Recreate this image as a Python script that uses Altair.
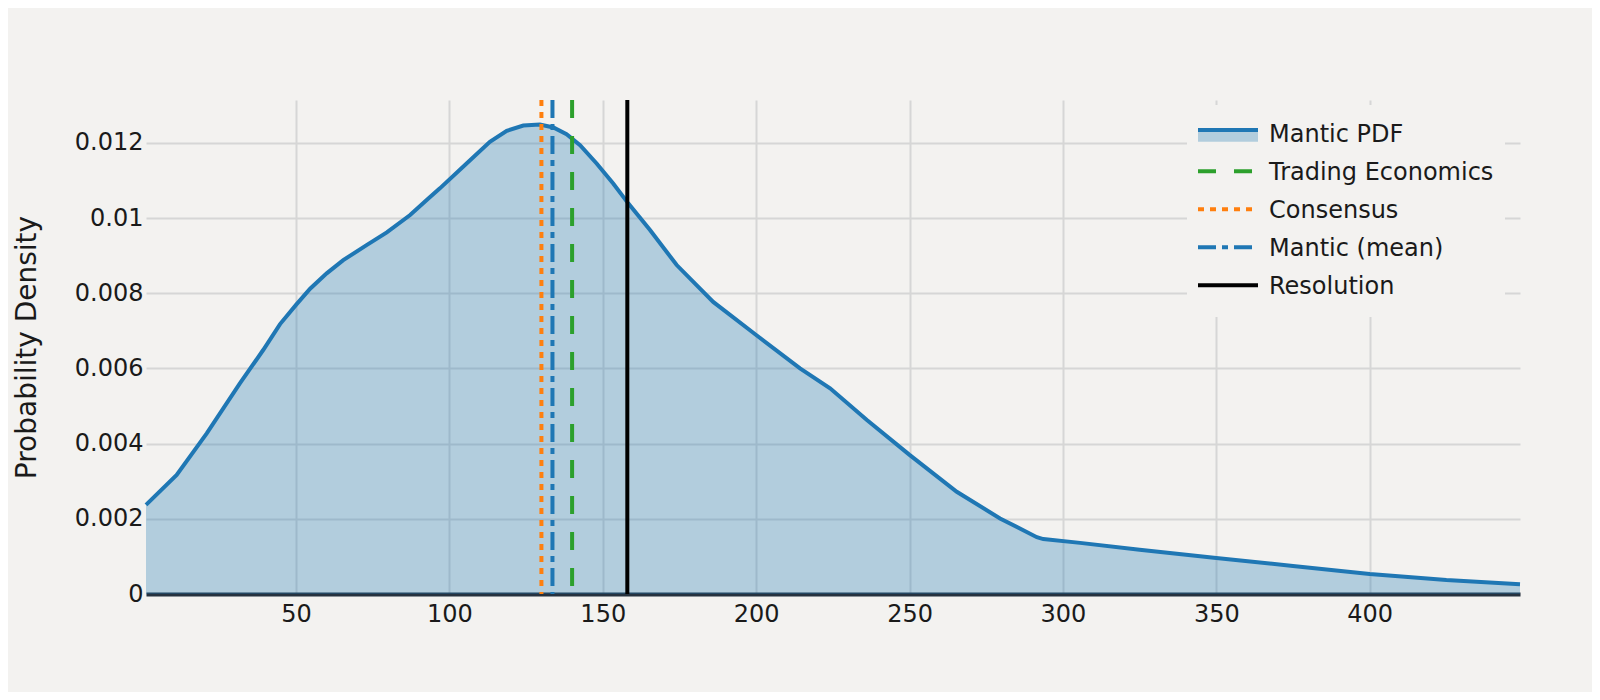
import altair as alt
import pandas as pd

# Mantic probability density
pdf_x = [1.1, 11.1, 20.9, 31.7, 39.3, 44.8, 50.0, 54.6, 60.0, 65.4, 73.0, 79.6, 87.2,
         92.6, 96.9, 105.6, 113.2, 118.7, 124.1, 129.5, 133.9, 138.2, 142.6, 148.0,
         153.4, 158.3, 165.4, 174.1, 186.0, 200.0, 214.3, 224.1, 236.1, 250.0, 265.4,
         279.5, 291.5, 293.6, 305.6, 325.0, 350.0, 375.0, 400.0, 425.0, 449.0]
pdf_y = [0.00237, 0.00317, 0.00427, 0.0056, 0.00649, 0.00718, 0.00769, 0.00812, 0.00853,
         0.00888, 0.00928, 0.00962, 0.01008, 0.01048, 0.01079, 0.01145, 0.01203, 0.01232,
         0.01246, 0.01249, 0.01241, 0.01223, 0.01194, 0.01145, 0.01092, 0.01039, 0.00968,
         0.00875, 0.00777, 0.00689, 0.006, 0.00547, 0.00463, 0.0037, 0.00272, 0.00201,
         0.00151, 0.00146, 0.00136, 0.00118, 0.00096, 0.000745, 0.00053, 0.00037, 0.00026]

# reference lines
ref_names = ["Trading Economics", "Consensus", "Mantic (mean)", "Resolution"]
ref_values = [140.0, 130.0, 133.6, 158.0]

series_names = ["Mantic PDF"] + ref_names
# the PDF entry's symbol is drawn by the fill legend, so it is transparent here
series_colors = ["rgba(0,0,0,0)", "#2ca02c", "#ff7f0e", "#1f77b4", "#000000"]
series_dashes = [[1, 0], [18, 18], [6, 6], [18, 6, 6, 6], [1, 0]]

x_ticks = [50, 100, 150, 200, 250, 300, 350, 400]
y_ticks = [0, 0.002, 0.004, 0.006, 0.008, 0.01, 0.012]

BG = "#f3f2f0"
FONT = "DejaVu Sans"
TEXT = "#1a1a1a"
BLUE = "#1f77b4"

pdf = pd.DataFrame({"value": pdf_x, "density": pdf_y})
pdf["fill_key"] = "Mantic PDF"
refs = pd.DataFrame({"value": ref_values, "series": ref_names})

x_scale = alt.Scale(domain=[1.1, 449], nice=False, zero=False)
y_scale = alt.Scale(domain=[0, 0.01314], nice=False)

main_legend = alt.Legend(
    orient="none", legendX=1041, legendY=5, title=None,
    symbolType="M-1,-0.06H1", symbolSize=3600, symbolStrokeWidth=4,
    symbolOffset=-2, clipHeight=38, rowPadding=0, padding=11, labelOffset=9,
    labelFont=FONT, labelFontSize=24, labelColor=TEXT, labelLimit=400,
    fillColor=BG, zindex=1,
)
color = alt.Color("series:N", scale=alt.Scale(domain=series_names, range=series_colors),
                  legend=main_legend)
dash = alt.StrokeDash("series:N", scale=alt.Scale(domain=series_names, range=series_dashes),
                      legend=main_legend)

x_enc = alt.X("value:Q", scale=x_scale, title=None,
              axis=alt.Axis(values=x_ticks, ticks=False, grid=True, domain=True,
                            domainColor="#26323f", domainWidth=4, labelPadding=8))
y_enc = alt.Y("density:Q", scale=y_scale, title="Probability Density",
              axis=alt.Axis(values=y_ticks, format=".3~f", ticks=False, domain=False,
                            grid=True, labelPadding=3, titleX=-119, titleY=247,
                            titleAngle=270, titleAlign="center", titleBaseline="middle"))

area = alt.Chart(pdf).mark_area(opacity=1).encode(
    x=x_enc, y=y_enc,
    fill=alt.Fill("fill_key:N",
                  scale=alt.Scale(domain=["Mantic PDF"], range=["rgba(31,119,180,0.3)"]),
                  legend=alt.Legend(orient="none", legendX=1050, legendY=11, title=None,
                                    symbolType="M-1,0H1V0.39H-1Z", symbolSize=3600,
                                    symbolStrokeColor=BLUE, symbolStrokeWidth=4,
                                    symbolDash=[60, 1000], symbolOpacity=1,
                                    clipHeight=38, padding=0, labelExpr="''", zindex=2)),
)

line = alt.Chart(pdf).mark_line(color=BLUE, strokeWidth=4).encode(
    x=alt.X("value:Q", scale=x_scale),
    y=alt.Y("density:Q", scale=y_scale),
)

rules = alt.Chart(refs).mark_rule(strokeWidth=4).encode(
    x=alt.X("value:Q", scale=x_scale), color=color, strokeDash=dash
)

chart = alt.layer(area, line, rules).properties(
    width=1374, height=494,
    padding={"left": 138, "top": 92, "right": 72, "bottom": 98},
    autosize=alt.AutoSizeParams(type="none"),
    background=BG,
).configure_view(
    fill=BG, strokeWidth=0
).configure_axis(
    gridColor="#d6d6d6", gridWidth=2,
    labelFont=FONT, labelFontSize=24, labelColor=TEXT,
    titleFont=FONT, titleFontSize=28, titleFontWeight="normal", titleColor=TEXT,
)

chart.save("out.html", embed_options={"renderer": "svg", "actions": False})
